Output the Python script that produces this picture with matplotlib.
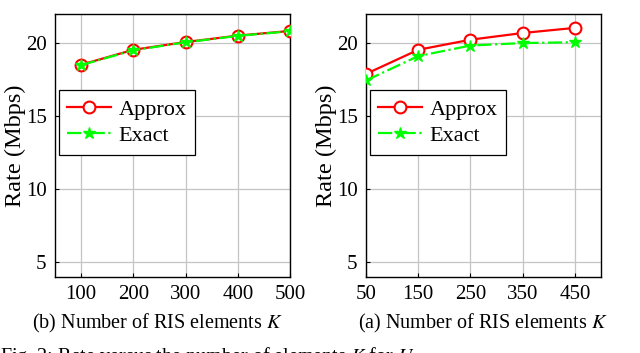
import matplotlib.pyplot as plt

plt.rcParams['font.family'] = ['Liberation Serif', 'DejaVu Serif']
plt.rcParams['mathtext.fontset'] = 'stix'
plt.rcParams['font.size'] = 14

# (b) left panel
k_b = [100, 200, 300, 400, 500]
approx_b = [18.53, 19.55, 20.08, 20.52, 20.84]
exact_b = [18.50, 19.52, 20.06, 20.50, 20.82]

# (a) right panel
k_a = [50, 150, 250, 350, 450]
approx_a = [17.9, 19.55, 20.24, 20.70, 21.05]
exact_a = [17.45, 19.12, 19.84, 20.01, 20.07]

yticks = [5, 10, 15, 20]

fig = plt.figure(figsize=(6.4, 3.53), dpi=100)
ax_b = fig.add_axes([55/640, 76/353, 235/640, 263/353])
ax_a = fig.add_axes([366/640, 76/353, 235/640, 263/353])


def draw(ax, k, approx, exact, ticks):
    ax.plot(k, approx, color='red', lw=1.6, marker='o', ms=8.5,
            mfc='white', mec='red', mew=1.5, label='Approx', zorder=3)
    ax.plot(k, exact, color='#00ff00', lw=1.6, ls='-.', marker='*', ms=9,
            mfc='#00ff00', mec='#00ff00', label='Exact', zorder=4)
    ax.set_xlim(50, 500)
    ax.set_ylim(4, 22)
    ax.set_xticks(ticks)
    ax.set_yticks(yticks)
    ax.grid(True, color='#c4c4c4', lw=0.9)
    ax.set_axisbelow(True)
    ax.tick_params(direction='in', length=3, pad=6, labelsize=15)
    for s in ax.spines.values():
        s.set_linewidth(1.0)
    ax.set_ylabel('Rate (Mbps)', fontsize=17.5, labelpad=0)
    leg = ax.legend(loc='upper left', bbox_to_anchor=(0.015, 0.71),
                    borderaxespad=0, fancybox=False, framealpha=1,
                    edgecolor='black', handlelength=1.95, fontsize=16,
                    borderpad=0.4, labelspacing=0.27, handletextpad=0.35)
    leg.get_frame().set_linewidth(0.9)


draw(ax_b, k_b, approx_b, exact_b, k_b)
draw(ax_a, k_a, approx_a, exact_a, k_a)

fig.text(157/640, 1 - 323/353, '(b) Number of RIS elements $K$',
         ha='center', va='center', fontsize=14.5)
fig.text(483/640, 1 - 323/353, '(a) Number of RIS elements $K$',
         ha='center', va='center', fontsize=14.5)
fig.text(0.0, -0.025, 'Fig. 2: Rate versus the number of elements $K$ for $U$',
         ha='left', va='baseline', fontsize=14.5)

fig.savefig('out.png', dpi=100)
